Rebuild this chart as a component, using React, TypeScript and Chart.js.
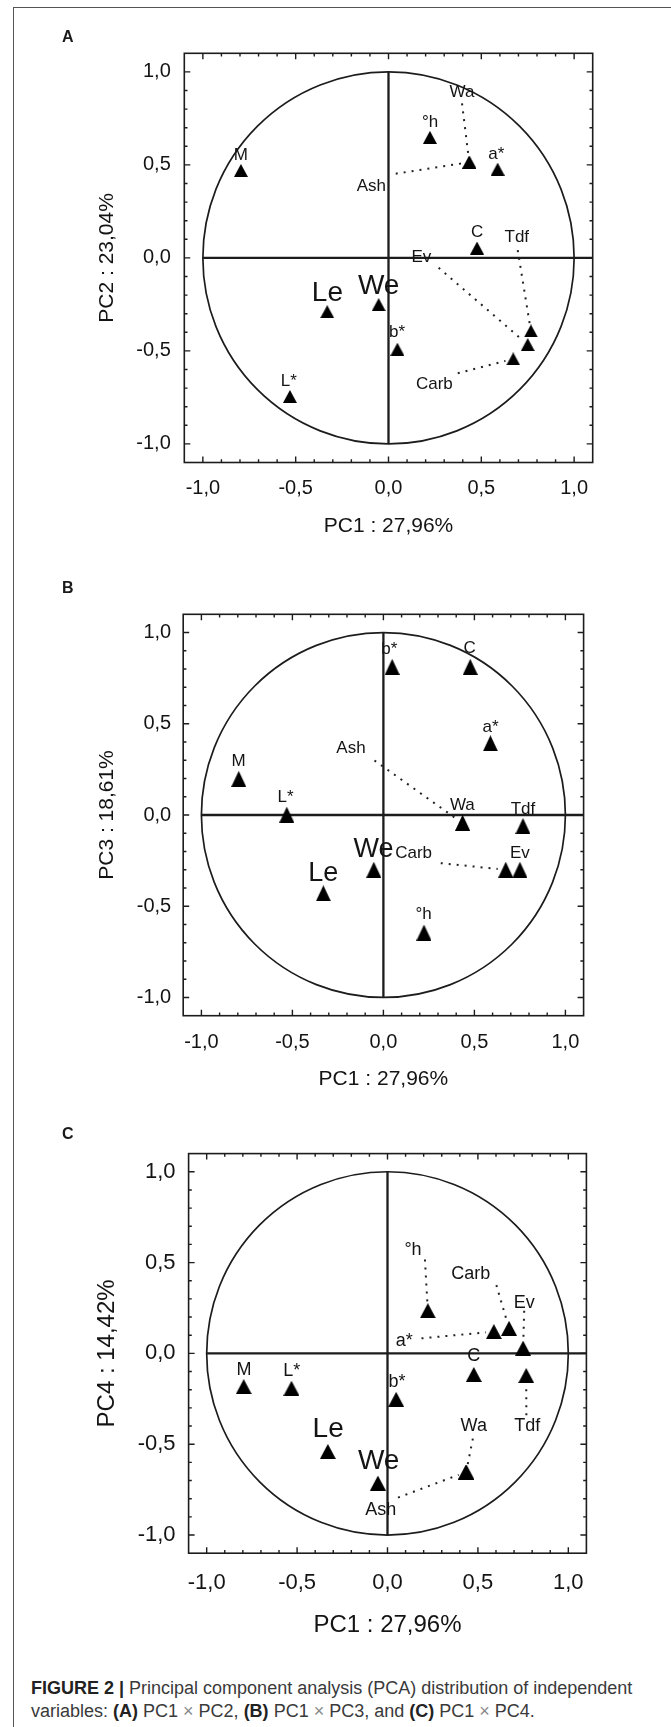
import React, { useEffect, useRef } from 'react';
import { Chart, registerables } from 'chart.js';

Chart.register(...registerables);

// ---------- data ----------
const VARIABLES = ['M', '°h', 'Wa', 'Ash', 'a*', 'C', 'Tdf', 'Ev', 'Carb', 'L*', 'b*', 'Le', 'We'];
const BIG_LABELS = ['Le', 'We'];
const PC1 = [-0.795, 0.223, 0.435, 0.435, 0.588, 0.477, 0.767, 0.75, 0.672, -0.531, 0.048, -0.33, -0.053];
const PC2 = [0.47, 0.648, 0.514, 0.514, 0.477, 0.053, -0.393, -0.466, -0.543, -0.745, -0.491, -0.289, -0.251];
const PC3 = [0.198, -0.644, -0.045, -0.045, 0.393, 0.812, -0.06, -0.3, -0.3, 0.002, 0.812, -0.429, -0.3];
const PC4 = [-0.183, 0.235, -0.653, -0.653, 0.12, -0.116, -0.122, 0.029, 0.138, -0.192, -0.253, -0.54, -0.714];
const TICKS = [-1, -0.5, 0, 0.5, 1];
const X_TITLE = 'PC1 : 27,96%';
const Y_TITLES = ['PC2 : 23,04%', 'PC3 : 18,61%', 'PC4 : 14,42%'];
const PANEL_LETTERS = ['A', 'B', 'C'];

// label placements (data units), same order as VARIABLES
const LABELS_A = [[-0.795, 0.558], [0.224, 0.735], [0.396, 0.898], [-0.092, 0.393], [0.581, 0.566], [0.477, 0.143], [0.691, 0.12], [0.177, 0.012], [0.247, -0.673], [-0.537, -0.654], [0.046, -0.393], [-0.329, -0.178], [-0.053, -0.139]];
const LEADERS_A = [null, null, [0.396, 0.831], [0.039, 0.453], null, null, [0.696, 0.042], [0.27, -0.053], [0.373, -0.62], null, null, null, null];
const LABELS_B = [[-0.796, 0.303], [0.221, -0.536], [0.434, 0.06], [-0.178, 0.374], [0.589, 0.491], [0.474, 0.92], [0.767, 0.038], [0.75, -0.203], [0.166, -0.205], [-0.538, 0.104], [0.033, 0.916], [-0.331, -0.307], [-0.055, -0.177]];
const LEADERS_B = [null, null, null, [-0.049, 0.299], null, null, null, null, [0.315, -0.264], null, null, null, null];
const LABELS_C = [[-0.794, -0.083], [0.141, 0.577], [0.477, -0.393], [-0.037, -0.853], [0.093, 0.077], [0.477, -0.008], [0.773, -0.393], [0.756, 0.285], [0.46, 0.445], [-0.529, -0.089], [0.053, -0.148], [-0.328, -0.404], [-0.049, -0.582]];
const LEADERS_C = [null, [0.207, 0.517], [0.472, -0.469], [0.058, -0.794], [0.188, 0.083], null, [0.768, -0.34], [0.756, 0.235], [0.602, 0.376], null, null, null, null];

// ---------- layout / style ----------
const FONT = '"Liberation Sans", Arial, Helvetica, sans-serif';
const INK = '#141414';
const CANVAS_LEFT = 60;
const CANVAS_RIGHT = 650;
const HX = 100;

type Spec = {
  yValues: number[];
  yTitle: string;
  labels: number[][];
  leaders: (number[] | null)[];
  area: { left: number; top: number; right: number; bottom: number };
  tickFont: number;
  titleFont: number;
  labelFont: number;
  bigFont: number;
  xTickOffset: number;
  xTitleOffset: number;
  yTickGap: number;
  yTitleX: number;
  tri: [number, number];
};

const SPECS: Spec[] = [
  {
    yValues: PC2, yTitle: Y_TITLES[0], labels: LABELS_A, leaders: LEADERS_A,
    area: { left: 184.3, top: 53.3, right: 592.7, bottom: 462.5 },
    tickFont: 20, titleFont: 21, labelFont: 17, bigFont: 28,
    xTickOffset: 26, xTitleOffset: 64, yTickGap: 13.5, yTitleX: 107, tri: [14, 13],
  },
  {
    yValues: PC3, yTitle: Y_TITLES[1], labels: LABELS_B, leaders: LEADERS_B,
    area: { left: 183.2, top: 614.3, right: 583.6, bottom: 1015.7 },
    tickFont: 20, titleFont: 21, labelFont: 17, bigFont: 27,
    xTickOffset: 27, xTitleOffset: 64, yTickGap: 12, yTitleX: 107, tri: [15, 16],
  },
  {
    yValues: PC4, yTitle: Y_TITLES[2], labels: LABELS_C, leaders: LEADERS_C,
    area: { left: 188.6, top: 1153.6, right: 586.4, bottom: 1553.2 },
    tickFont: 22, titleFont: 24, labelFont: 18, bigFont: 28,
    xTickOffset: 30, xTitleOffset: 72, yTickGap: 13, yTitleX: 107, tri: [16, 15],
  },
];

const LETTER_POS = [[68, 37], [68, 588], [68, 1134]];

function fmt(v: number) {
  return v.toFixed(1).replace('.', ',');
}

function makeTriangle(w: number, h: number) {
  const c = document.createElement('canvas');
  c.width = w;
  c.height = h;
  const g = c.getContext('2d')!;
  g.fillStyle = '#000';
  g.beginPath();
  g.moveTo(w / 2, 0);
  g.lineTo(w, h);
  g.lineTo(0, h);
  g.closePath();
  g.fill();
  return c;
}

function geometry(spec: Spec) {
  const a = spec.area;
  const top = Math.floor(a.top) - 40;
  const height = Math.ceil(a.bottom + HX) + 4 - top;
  const width = CANVAS_RIGHT - CANVAS_LEFT;
  return {
    top,
    height,
    width,
    padTop: a.top - top,
    padBottom: top + height - a.bottom - HX,
    padRight: CANVAS_RIGHT - a.right,
    yWidth: a.left - CANVAS_LEFT,
  };
}

function Panel({ spec }: { spec: Spec }) {
  const ref = useRef<HTMLCanvasElement>(null);
  const geo = geometry(spec);

  useEffect(() => {
    const canvas = ref.current;
    if (!canvas) return;
    const tri = makeTriangle(spec.tri[0], spec.tri[1]);
    const tickLH = spec.tickFont * 1.2;
    const titleLH = spec.titleFont * 1.2;

    const decor = {
      id: 'decor',
      beforeDatasetsDraw(chart: any) {
        const { ctx, chartArea: a, scales } = chart;
        const x = scales.x;
        const y = scales.y;
        const cx = x.getPixelForValue(0);
        const cy = y.getPixelForValue(0);
        const rx = x.getPixelForValue(1) - cx;
        const ry = cy - y.getPixelForValue(1);
        ctx.save();
        ctx.strokeStyle = '#1c1c1c';
        ctx.lineWidth = 1.7;
        ctx.beginPath();
        ctx.ellipse(cx, cy, rx, ry, 0, 0, Math.PI * 2);
        ctx.stroke();
        ctx.lineWidth = 2.3;
        ctx.beginPath();
        ctx.moveTo(x.getPixelForValue(-1), cy);
        ctx.lineTo(a.right, cy);
        ctx.moveTo(cx, y.getPixelForValue(1));
        ctx.lineTo(cx, y.getPixelForValue(-1));
        ctx.stroke();
        // dotted leader lines
        ctx.setLineDash([2, 6]);
        ctx.lineWidth = 2;
        ctx.strokeStyle = '#222';
        spec.leaders.forEach((l, i) => {
          if (!l) return;
          const sx = x.getPixelForValue(l[0]);
          const sy = y.getPixelForValue(l[1]);
          const px = x.getPixelForValue(PC1[i]);
          const py = y.getPixelForValue(spec.yValues[i]);
          const d = Math.hypot(px - sx, py - sy);
          const gap = 8;
          ctx.beginPath();
          ctx.moveTo(sx, sy);
          ctx.lineTo(px - ((px - sx) * gap) / d, py - ((py - sy) * gap) / d);
          ctx.stroke();
        });
        ctx.restore();
      },
      afterDraw(chart: any) {
        const { ctx, chartArea: a, scales } = chart;
        const x = scales.x;
        const y = scales.y;
        ctx.save();
        // frame
        ctx.strokeStyle = '#1c1c1c';
        ctx.lineWidth = 1.6;
        ctx.strokeRect(a.left, a.top, a.right - a.left, a.bottom - a.top);
        // inward ticks every 0.1
        ctx.lineWidth = 1.4;
        ctx.beginPath();
        for (let k = -10; k <= 10; k++) {
          const v = k / 10;
          const len = k % 5 === 0 ? 6 : 3.2;
          const px = x.getPixelForValue(v);
          const py = y.getPixelForValue(v);
          ctx.moveTo(a.left, py);
          ctx.lineTo(a.left + len, py);
          ctx.moveTo(a.right, py);
          ctx.lineTo(a.right - len, py);
          ctx.moveTo(px, a.top);
          ctx.lineTo(px, a.top + len);
          ctx.moveTo(px, a.bottom);
          ctx.lineTo(px, a.bottom - len);
        }
        ctx.stroke();
        // variable labels
        ctx.fillStyle = INK;
        ctx.textAlign = 'center';
        ctx.textBaseline = 'alphabetic';
        VARIABLES.forEach((name, i) => {
          const pos = spec.labels[i];
          const size = BIG_LABELS.includes(name) ? spec.bigFont : spec.labelFont;
          ctx.font = `${size}px ${FONT}`;
          const px = x.getPixelForValue(pos[0]);
          const py = y.getPixelForValue(pos[1]);
          ctx.fillText(name, px, py + size * 0.716 * 0.5);
        });
        ctx.restore();
      },
    };

    const chart = new Chart(canvas, {
      type: 'scatter',
      data: {
        datasets: [
          {
            data: VARIABLES.map((_, i) => ({ x: PC1[i], y: spec.yValues[i] })),
            pointStyle: tri as any,
            pointRadius: 7,
            pointHoverRadius: 7,
            backgroundColor: '#000',
            borderColor: '#000',
          },
        ],
      },
      options: {
        responsive: false,
        animation: false,
        devicePixelRatio: 1,
        events: [],
        layout: {
          padding: { left: 0, top: geo.padTop, right: geo.padRight, bottom: geo.padBottom },
        },
        plugins: { legend: { display: false }, tooltip: { enabled: false } },
        scales: {
          x: {
            type: 'linear',
            min: -1.1,
            max: 1.1,
            afterBuildTicks: (s: any) => {
              s.ticks = TICKS.map((v) => ({ value: v }));
            },
            afterFit: (s: any) => {
              s.height = HX;
            },
            grid: { display: false, drawTicks: false },
            border: { display: false },
            ticks: {
              padding: spec.xTickOffset - tickLH / 2,
              font: { family: FONT, size: spec.tickFont },
              color: INK,
              maxRotation: 0,
              autoSkip: false,
              callback: (v: any) => fmt(Number(v)),
            },
            title: {
              display: true,
              text: X_TITLE,
              color: INK,
              font: { family: FONT, size: spec.titleFont },
              padding: { top: 0, bottom: HX - titleLH / 2 - spec.xTitleOffset },
            },
          },
          y: {
            type: 'linear',
            min: -1.1,
            max: 1.1,
            afterBuildTicks: (s: any) => {
              s.ticks = TICKS.map((v) => ({ value: v }));
            },
            afterFit: (s: any) => {
              s.width = geo.yWidth;
            },
            grid: { display: false, drawTicks: false },
            border: { display: false },
            ticks: {
              padding: spec.yTickGap,
              font: { family: FONT, size: spec.tickFont },
              color: INK,
              autoSkip: false,
              callback: (v: any) => fmt(Number(v)),
            },
            title: {
              display: true,
              text: spec.yTitle,
              color: INK,
              font: { family: FONT, size: spec.titleFont },
              padding: { top: spec.yTitleX - CANVAS_LEFT - titleLH / 2, bottom: 0 },
            },
          },
        },
      },
      plugins: [decor],
    } as any);
    return () => chart.destroy();
  }, []);

  return (
    <canvas
      ref={ref}
      width={geo.width}
      height={geo.height}
      style={{ position: 'absolute', left: CANVAS_LEFT, top: geo.top, width: geo.width, height: geo.height }}
    />
  );
}

export default function App() {
  const times = <span style={{ color: '#888' }}> × </span>;
  return (
    <div
      style={{
        position: 'absolute',
        left: 0,
        top: 0,
        width: 671,
        height: 1727,
        background: '#fff',
        overflow: 'hidden',
        fontFamily: FONT,
      }}
    >
      <div
        style={{
          position: 'absolute',
          left: 13,
          top: 7,
          width: 700,
          height: 1800,
          borderLeft: '1px solid #555',
          borderTop: '1px solid #555',
        }}
      />
      {SPECS.map((s, i) => (
        <Panel key={i} spec={s} />
      ))}
      {PANEL_LETTERS.map((l, i) => (
        <div
          key={l}
          style={{
            position: 'absolute',
            left: LETTER_POS[i][0] - 6,
            top: LETTER_POS[i][1] - 8,
            fontSize: 16,
            lineHeight: '16px',
            fontWeight: 'bold',
            color: '#1a1a1a',
          }}
        >
          {l}
        </div>
      ))}
      <div
        style={{
          position: 'absolute',
          left: 31,
          top: 1677,
          fontSize: 18,
          lineHeight: '23px',
          color: '#3a3a3a',
          whiteSpace: 'nowrap',
        }}
      >
        <b style={{ color: '#222' }}>FIGURE 2 |</b> Principal component analysis (PCA) distribution of independent
        <br />
        variables: <b style={{ color: '#222' }}>(A)</b> PC1{times}PC2, <b style={{ color: '#222' }}>(B)</b> PC1{times}PC3, and{' '}
        <b style={{ color: '#222' }}>(C)</b> PC1{times}PC4.
      </div>
    </div>
  );
}
